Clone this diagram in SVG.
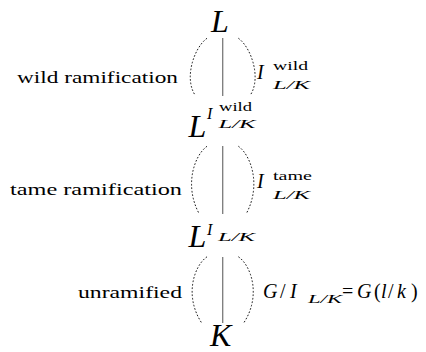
<svg xmlns="http://www.w3.org/2000/svg" width="426" height="352" viewBox="0 0 426 352">
<style>
text{font-family:"Liberation Serif","DejaVu Serif","Times New Roman",serif;fill:#000}
.m{font-style:italic}
.r{font-style:normal}
.big{font-size:32px}
.mid{font-size:20px}
.sm{font-size:13px}
.sup{font-size:16px}
.lab{font-size:17px}
.ln{stroke:#7a7a7a;stroke-width:1.3;fill:none}
.dot{stroke:#000;stroke-width:0.9;fill:none;stroke-dasharray:0.9 2.6;stroke-linecap:round}
</style>
<rect width="426" height="352" fill="#fff"/>
<g id="connectors">
  <line class="ln" x1="222.7" y1="38" x2="222.7" y2="96"/>
  <path class="dot" d="M206.7,38.5 C194,48 184,78 195,95"/>
  <path class="dot" d="M238.7,38.5 C251.4,48 261.4,78 250.4,95"/>
  <line class="ln" x1="222.7" y1="146" x2="222.7" y2="214"/>
  <path class="dot" d="M206.7,146.5 C194,156 184,186 199.3,214"/>
  <path class="dot" d="M238.7,146.5 C251.4,156 261.4,186 246.1,214"/>
  <line class="ln" x1="222.7" y1="257" x2="222.7" y2="323"/>
  <path class="dot" d="M206.7,257 C194,266 184,296 201.7,323"/>
  <path class="dot" d="M238.7,257 C251.4,266 261.4,296 243.7,323"/>
</g>
<g id="node-L">
  <text class="m big" x="211" y="31.7">L</text>
</g>
<g id="node-L-wild">
  <text class="m big" x="188.5" y="137">L</text>
  <text class="m sup" x="207" y="119">I</text>
  <text class="r sm" x="219" y="111" textLength="33" lengthAdjust="spacingAndGlyphs">wild</text>
  <text class="m sm" x="218.5" y="128" textLength="37" lengthAdjust="spacingAndGlyphs">L/K</text>
</g>
<g id="node-L-inertia">
  <text class="m big" x="188.5" y="247">L</text>
  <text class="m sup" x="207" y="235">I</text>
  <text class="m sm" x="218" y="241" textLength="37" lengthAdjust="spacingAndGlyphs">L/K</text>
</g>
<g id="node-K">
  <text class="m big" x="210" y="346">K</text>
</g>
<g id="label-wild">
  <text class="r lab" x="17" y="83" textLength="161" lengthAdjust="spacingAndGlyphs">wild ramification</text>
  <text class="m mid" x="257" y="79">I</text>
  <text class="r sm" x="273" y="70" textLength="35" lengthAdjust="spacingAndGlyphs">wild</text>
  <text class="m sm" x="273" y="89" textLength="37" lengthAdjust="spacingAndGlyphs">L/K</text>
</g>
<g id="label-tame">
  <text class="r lab" x="10" y="195" textLength="172" lengthAdjust="spacingAndGlyphs">tame ramification</text>
  <text class="m mid" x="257" y="188">I</text>
  <text class="r sm" x="273" y="180" textLength="39" lengthAdjust="spacingAndGlyphs">tame</text>
  <text class="m sm" x="273" y="199" textLength="37" lengthAdjust="spacingAndGlyphs">L/K</text>
</g>
<g id="label-unramified">
  <text class="r lab" x="78" y="298" textLength="104" lengthAdjust="spacingAndGlyphs">unramified</text>
  <text class="mid" y="298"><tspan class="m" x="263">G</tspan><tspan class="r" x="280">/</tspan><tspan class="m" x="290">I</tspan></text>
  <text class="m sm" x="308" y="303" textLength="34" lengthAdjust="spacingAndGlyphs">L/K</text>
  <text class="mid" y="298"><tspan class="r" x="342">=</tspan><tspan class="m" x="357">G</tspan><tspan class="r" x="374">(</tspan><tspan class="m" x="381">l</tspan><tspan class="r" x="388">/</tspan><tspan class="m" x="397">k</tspan><tspan class="r" x="411">)</tspan></text>
</g>
</svg>
